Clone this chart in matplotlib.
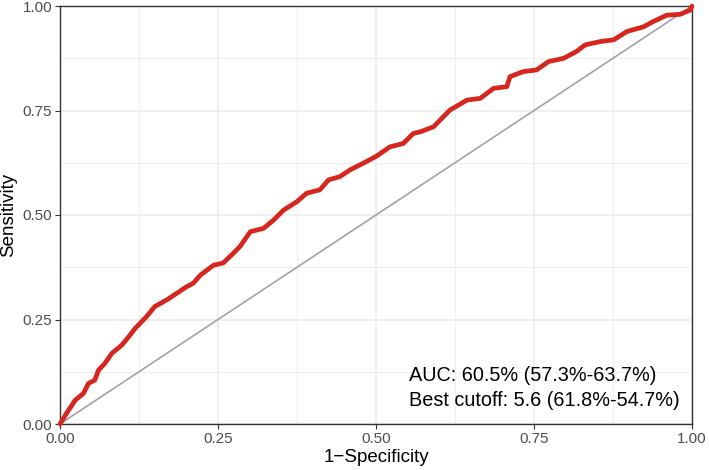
import matplotlib
matplotlib.use('agg')
import matplotlib.pyplot as plt
from matplotlib.ticker import MultipleLocator

# ROC curve: 1-specificity vs sensitivity
fpr = [0.0, 0.0105, 0.024, 0.037, 0.045, 0.055, 0.061, 0.071, 0.082, 0.098,
       0.111, 0.119, 0.137, 0.150, 0.169, 0.185, 0.200, 0.211, 0.222, 0.243,
       0.258, 0.274, 0.285, 0.301, 0.322, 0.338, 0.354, 0.375, 0.390, 0.411,
       0.425, 0.443, 0.459, 0.480, 0.501, 0.522, 0.543, 0.559, 0.570, 0.591,
       0.617, 0.644, 0.665, 0.686, 0.707, 0.712, 0.733, 0.754, 0.773, 0.797,
       0.817, 0.831, 0.855, 0.876, 0.897, 0.923, 0.939, 0.960, 0.981, 0.997,
       1.0]
tpr = [0.0, 0.026, 0.057, 0.073, 0.097, 0.105, 0.129, 0.145, 0.169, 0.189,
       0.213, 0.229, 0.257, 0.281, 0.297, 0.313, 0.328, 0.337, 0.356, 0.380,
       0.385, 0.408, 0.425, 0.460, 0.468, 0.488, 0.512, 0.532, 0.552, 0.560,
       0.584, 0.592, 0.608, 0.624, 0.641, 0.663, 0.671, 0.695, 0.699, 0.711,
       0.751, 0.775, 0.779, 0.803, 0.807, 0.831, 0.843, 0.847, 0.867, 0.875,
       0.891, 0.907, 0.915, 0.919, 0.939, 0.950, 0.963, 0.978, 0.980, 0.990,
       1.0]

auc_text = "AUC: 60.5% (57.3%-63.7%)"
cutoff_text = "Best cutoff: 5.6 (61.8%-54.7%)"
ticks = [0.0, 0.25, 0.5, 0.75, 1.0]
tick_labels = ["0.00", "0.25", "0.50", "0.75", "1.00"]

plt.rcParams['font.family'] = ['Liberation Sans', 'DejaVu Sans']

fig = plt.figure(figsize=(7.09, 4.70), dpi=100)
ax = fig.add_axes([60/709, 46/470, 632/709, 418/470])

ax.set_xlim(0, 1)
ax.set_ylim(0, 1)
ax.xaxis.set_minor_locator(MultipleLocator(0.125))
ax.yaxis.set_minor_locator(MultipleLocator(0.125))
ax.grid(which='major', color='#EBEBEB', lw=1.1, zorder=0)
ax.grid(which='minor', color='#EBEBEB', lw=0.55, zorder=0)
ax.set_axisbelow(True)
ax.tick_params(which='minor', length=0)
ax.tick_params(which='major', length=3.6, width=0.8, color='#333333',
               labelsize=11, labelcolor='#4D4D4D', pad=2)
ax.set_xticks(ticks)
ax.set_xticklabels(tick_labels)
ax.set_yticks(ticks)
ax.set_yticklabels(tick_labels)
for s in ax.spines.values():
    s.set_color('#333333')
    s.set_linewidth(1.0)

ax.plot([0, 1], [0, 1], color='#A3A3A3', lw=1.2, zorder=2)
ax.plot(fpr, tpr, color='#D7261E', lw=3.4, solid_joinstyle='round',
        solid_capstyle='round', zorder=3, clip_on=False)

ax.text(0.553, 0.115, auc_text, fontsize=14.3, color='black', va='center', ha='left')
ax.text(0.553, 0.057, cutoff_text, fontsize=14.3, color='black', va='center', ha='left')

ax.set_xlabel("1\u2212Specificity", fontsize=13.5, labelpad=2)
ax.set_ylabel("Sensitivity", fontsize=13.5, labelpad=4)

fig.savefig('out.png', dpi=100)
